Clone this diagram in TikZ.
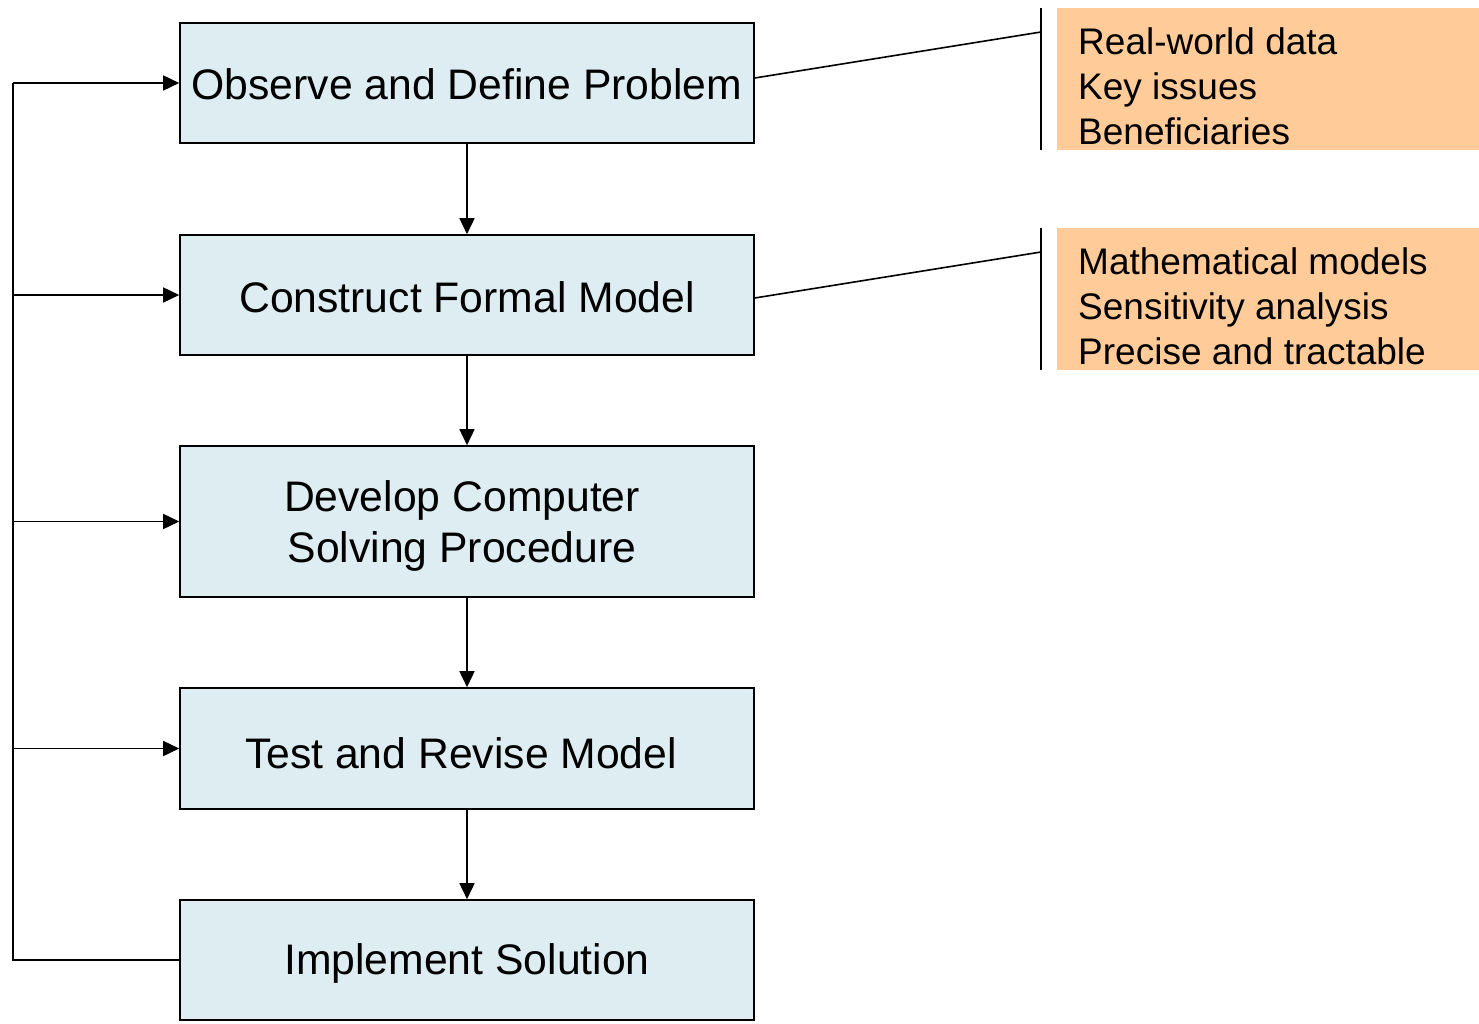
\documentclass[tikz,border=0pt]{standalone}
\usepackage{fontspec}
\setmainfont{Liberation Sans}
\usetikzlibrary{arrows.meta}
\definecolor{boxblue}{HTML}{DDEDF2}
\definecolor{boxorange}{HTML}{FFCC99}
\begin{document}
\begin{tikzpicture}[x=1pt,y=-1pt,
  stepbox/.style={draw=black,line width=1.6pt,fill=boxblue,minimum width=574pt,inner sep=0pt},
  steptext/.style={align=center,inner sep=0pt,font=\fontsize{42.7}{51}\selectfont},
  notebox/.style={fill=boxorange,minimum width=422pt,minimum height=142pt,inner sep=0pt,anchor=north west},
  notetext/.style={anchor=west,align=left,inner sep=0pt,font=\fontsize{37}{45}\selectfont},
  conn/.style={line width=1.6pt},
  arr/.style={conn,-{Triangle[length=16pt,width=15pt]}}]
\useasboundingbox (0,0) rectangle (1479,1024);
\node[stepbox,minimum height=120pt] (b1) at (467,83) {};
\node[stepbox,minimum height=120pt] (b2) at (467,295) {};
\node[stepbox,minimum height=151pt] (b3) at (467,521.5) {};
\node[stepbox,minimum height=121pt] (b4) at (467,748.5) {};
\node[stepbox,minimum height=120pt] (b5) at (467,960) {};
\node[steptext] (s1) at (467,84) {Observe and Define Problem};
\node[steptext] (s2) at (467,297) {Construct Formal Model};
\node[steptext] (s3) at (462,526) {Develop Computer\\Solving Procedure};
\node[steptext] (s4) at (461,753) {Test and Revise Model};
\node[steptext] (s5) at (467,963) {Implement Solution};
\draw[arr] (b1) -- (b2);
\draw[arr] (b2) -- (b3);
\draw[arr] (b3) -- (b4);
\draw[arr] (b4) -- (b5);
\coordinate (fb) at (13,960);
\coordinate (f1) at (13,83);
\coordinate (f2) at (13,295);
\coordinate (f3) at (13,521.5);
\coordinate (f4) at (13,748.5);
\draw[conn] (b5.west) -- (fb) -- (f1);
\draw[arr] (f1) -- (b1.west);
\draw[arr] (f2) -- (b2.west);
\draw[arr] (f3) -- (b3.west);
\draw[arr] (f4) -- (b4.west);
% callouts
\node[notebox] (c1) at (1057,8) {};
\node[notetext] (t1) at (1078,86) {Real-world data\\Key issues\\Beneficiaries};
\coordinate (k1a) at (1041,8);
\coordinate (k1b) at (1041,150);
\coordinate (k1m) at (1041,32);
\draw[conn] (k1a) -- (k1b);
\draw[conn] ([yshift=5pt]b1.east) -- (k1m);
\node[notebox] (c2) at (1057,228) {};
\node[notetext] (t2) at (1078,306) {Mathematical models\\Sensitivity analysis\\Precise and tractable};
\coordinate (k2a) at (1041,228);
\coordinate (k2b) at (1041,370);
\coordinate (k2m) at (1041,252);
\draw[conn] (k2a) -- (k2b);
\draw[conn] ([yshift=-3pt]b2.east) -- (k2m);
\end{tikzpicture}
\end{document}
